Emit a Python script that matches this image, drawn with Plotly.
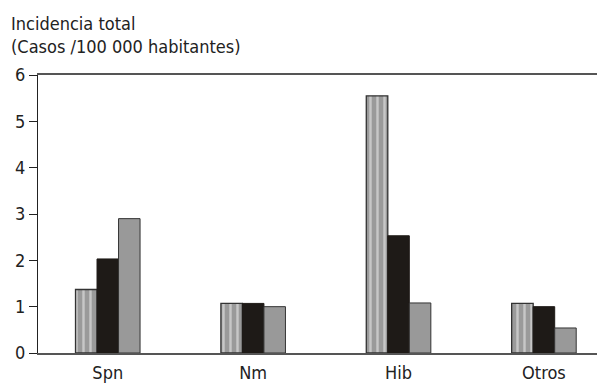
import plotly.graph_objects as go

categories = ["Spn", "Nm", "Hib", "Otros"]
serie_a = [1.37, 1.07, 5.55, 1.07]   # striped
serie_b = [2.03, 1.07, 2.53, 1.00]   # black
serie_c = [2.90, 1.00, 1.08, 0.54]   # gray
y_ticks = [0, 1, 2, 3, 4, 5, 6]

xpos = list(range(len(categories)))
bw = 0.148
font = "DejaVu Sans Condensed, Liberation Sans Narrow, sans-serif"

fig = go.Figure()
fig.add_bar(x=[p - bw for p in xpos], y=serie_a, width=bw,
            marker=dict(color="#9a9a9a", line=dict(color="#333", width=1.3),
                        pattern=dict(shape="|", fgcolor="#f4f4f4", bgcolor="#9a9a9a",
                                     size=7, solidity=0.35)))
fig.add_bar(x=xpos, y=serie_b, width=bw,
            marker=dict(color="#1e1a17", line=dict(color="#1e1a17", width=1)))
fig.add_bar(x=[p + bw for p in xpos], y=serie_c, width=bw,
            marker=dict(color="#999999", line=dict(color="#333", width=1)))

fig.update_layout(
    width=597, height=376, showlegend=False, barmode="overlay",
    plot_bgcolor="white", paper_bgcolor="white",
    margin=dict(l=30, r=0, t=67, b=31),
    font=dict(family=font, size=18, color="#222"),
    xaxis=dict(range=[-0.48, 3.42], tickvals=xpos, ticktext=categories,
               showline=True, linecolor="#555", linewidth=1.5, mirror=True,
               ticks="", showgrid=False, zeroline=False, ticklabelstandoff=3,
               tickfont=dict(size=18)),
    yaxis=dict(range=[0, 6], tickvals=y_ticks, ticks="outside", ticklen=8,
               tickcolor="#222", showline=True, linecolor="#222", linewidth=1.2,
               showgrid=False, zeroline=False, tickfont=dict(size=18)),
    annotations=[dict(text="Incidencia total<br>(Casos /100 000 habitantes)",
                      xref="paper", yref="paper", x=-0.051, y=1.23,
                      xanchor="left", yanchor="top", align="left",
                      showarrow=False, font=dict(size=18, family=font, color="#222"))],
)
fig.write_html("out.html")
